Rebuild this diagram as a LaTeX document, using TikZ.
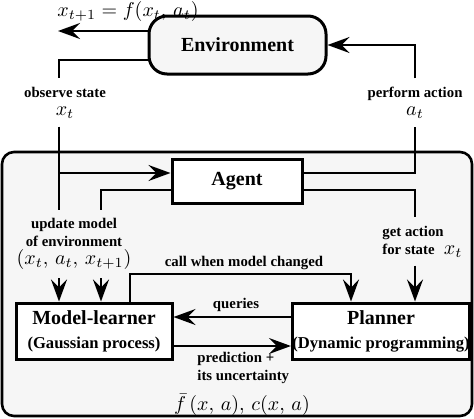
\documentclass[tikz,border=0pt]{standalone}
\usepackage{fontspec}
\setmainfont{Liberation Serif}
\usetikzlibrary{arrows.meta}
\newcommand{\mth}[1]{{\fontsize{10}{10}\selectfont$#1$}}
\newcommand{\subl}{\fontsize{8.3}{10}\selectfont}
\tikzset{
  box/.style={draw, line width=1.5pt, fill=white, align=center, inner sep=0pt,
    font=\bfseries\fontsize{10}{12}\selectfont},
  world/.style={draw, line width=1.3pt, fill=gray!7, rounded corners=6pt},
  lab/.style={font=\bfseries\fontsize{7.4}{9}\selectfont, align=center,
    inner xsep=1pt, inner ysep=4pt},
  line/.style={draw, line width=1pt},
  arrow/.style={line, -{Stealth[length=11pt, width=8pt, inset=4pt]}}
}
\begin{document}
\begin{tikzpicture}[x=0.5pt, y=-0.5pt]
	\useasboundingbox (0,0) rectangle (474,418);
	\draw[world] (2,152) rectangle (472,416);
	% boxes
	\node[box, rounded corners=9pt, fill=gray!7, minimum width=88.5pt, minimum height=29pt] (env) at (237.5,45) {Environment};
	\node[box, minimum width=65pt, minimum height=22pt] (agent) at (237,181) {Agent};
	\node[box, minimum width=78pt, minimum height=28pt] (learner) at (94,331) {Model-learner\\{\subl (Gaussian process)}};
	\node[box, minimum width=79pt, minimum height=28pt] (planner) at (381,331) {Planner\\{\subl (Dynamic programming)}};
	% labels
	\node[lab] (fnext) at (128,11) {\mth{x_{t+1} = f(x_t,\, a_t)}};
	\node[lab] (obs) at (65,102.5) {observe state\\\mth{x_t}};
	\node[lab] (act) at (415,102.5) {perform action\\\mth{a_t}};
	\node[lab] (upd) at (74,244) {update model\\of environment\\\mth{(x_t,\, a_t,\, x_{t+1})}};
	\node[lab, align=left, anchor=west] (get) at (380,241.5) {get action\\for state \mth{\;x_t}};
	\node[lab] (call) at (244,263) {call when model changed};
	\node[lab] (qry) at (236,305) {queries};
	\node[lab, align=left, anchor=west, inner ysep=1pt] (pred) at (195,368) {prediction +\\its uncertainty};
	\node[lab, inner ysep=1pt] (fbar) at (242,405) {\mth{\bar{f}\,(x,\, a),\, c(x,\, a)}};
	% columns and ports
	\coordinate (colL) at (59,0);
	\coordinate (colM) at (101,0);
	\coordinate (colC) at (130,0);
	\coordinate (colP) at (351,0);
	\coordinate (colR) at (415,0);
	\coordinate (nxt) at (58,31);
	\coordinate (ctop) at (0,274);
	\coordinate (ain) at ([yshift=4pt]agent.west);
	\coordinate (aout) at ([yshift=-4.5pt]agent.west);
	\coordinate (aup) at ([yshift=4pt]agent.east);
	\coordinate (adn) at ([yshift=-4.5pt]agent.east);
	% environment loop
	\draw[arrow] ([yshift=7pt]env.west) -- (nxt);
	\draw[line] ([yshift=-7.5pt]env.west) -| (obs.north -| colL);
	\draw[line] (obs.south -| colL) -- (upd.north -| colL);
	\draw[arrow] (ain -| colL) -- (ain);
	\draw[line] (aout) -| (upd.north -| colM);
	\draw[line] (aup) -| (act.south -| colR);
	\draw[arrow] (act.north -| colR) |- (env.east);
	\draw[line] (adn) -| (get.north -| colR);
	\draw[arrow] (get.south -| colR) -- (planner.north -| colR);
	% agent internals
	\draw[arrow] (upd.south -| colL) -- (learner.north -| colL);
	\draw[arrow] (upd.south -| colM) -- (learner.north -| colM);
	\draw[arrow] (learner.north -| colC) |- (ctop -| colP) -- (planner.north -| colP);
	\draw[arrow] ([yshift=7pt]planner.west) -- ([yshift=7pt]learner.east);
	\draw[arrow] ([yshift=-7.5pt]learner.east) -- ([yshift=-7.5pt]planner.west);
\end{tikzpicture}
\end{document}
